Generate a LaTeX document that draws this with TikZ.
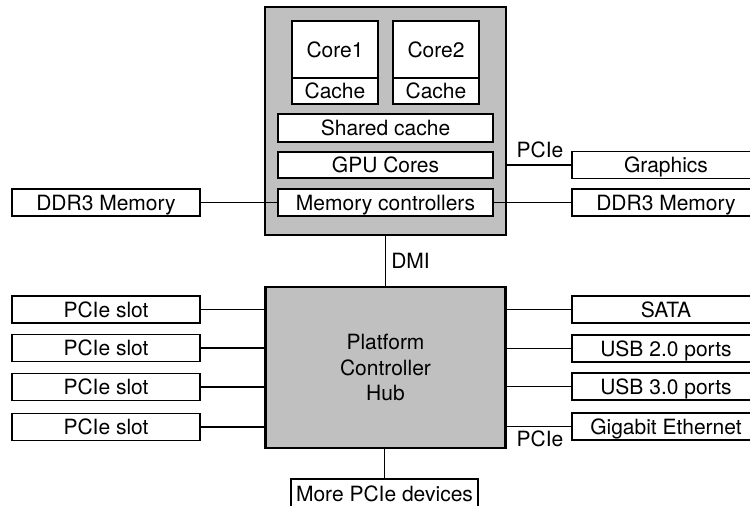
\documentclass[tikz,border=0pt]{standalone}
\usepackage{fontspec}
\setmainfont{TeX Gyre Heros}
\definecolor{chipgray}{RGB}{192,192,192}
\tikzset{
  box/.style={draw=black, line width=1.8pt, fill=white, inner sep=0pt,
    minimum width=#1, minimum height=27pt, text height=15pt, text depth=0pt,
    font=\fontsize{21}{25}\selectfont},
  box/.default=188pt,
  chip/.style={draw=black, line width=2.4pt, fill=chipgray, inner sep=0pt},
  wire/.style={line width=1.5pt},
  lbl/.style={inner sep=0pt, text height=15pt, text depth=0pt, font=\fontsize{21}{25}\selectfont},
}
\begin{document}
\begin{tikzpicture}[x=1pt, y=-1pt]
\useasboundingbox (0,0) rectangle (750,506);
% CPU
\node[chip, minimum width=241pt, minimum height=228pt] (cpu) at (385.5,121) {};
\node[box=86pt, minimum height=57pt] (core1) at (335,49.5) {Core1};
\node[box=86pt, minimum height=26pt] (cache1) at (335,91) {Cache};
\node[box=86pt, minimum height=57pt] (core2) at (436,49.5) {Core2};
\node[box=86pt, minimum height=26pt] (cache2) at (436,91) {Cache};
\node[box=215pt, minimum height=28pt] (shared) at (385.5,128) {Shared cache};
\node[box=215pt, minimum height=26pt] (gpu) at (385.5,165) {GPU Cores};
\node[box=215pt] (mc) at (385.5,202.5) {Memory controllers};
% PCH
\node[chip, minimum width=240pt, minimum height=161pt, align=center,
      font=\fontsize{21}{25.5}\selectfont] (pch) at (385.5,367.5) {Platform\\Controller\\Hub};
% left side
\node[box] (ddrL) at (106,202.5) {DDR3 Memory};
\node[box] (s1) at (106,309.5) {PCIe slot};
\node[box] (s2) at (106,348) {PCIe slot};
\node[box] (s3) at (106,387) {PCIe slot};
\node[box] (s4) at (106,427) {PCIe slot};
% right side
\node[box] (gfx) at (666,165) {Graphics};
\node[box] (ddrR) at (666,202.5) {DDR3 Memory};
\node[box] (sata) at (666,309.5) {SATA};
\node[box] (usb2) at (666,348.5) {USB 2.0 ports};
\node[box] (usb3) at (666,386.5) {USB 3.0 ports};
\node[box] (gbe) at (666,426.5) {Gigabit Ethernet};
% bottom
\node[box=187pt, minimum height=29pt] (more) at (384.5,493.5) {More PCIe devices};
% connectors
\draw[wire] (ddrL.east) -- (mc.west);
\draw[wire] (mc.east) -- (ddrR.west);
\draw[wire] (gfx.west) -- (gfx.west -| cpu.east);
\draw[wire] (cpu.south) -- (pch.north);
\draw[wire] (s1.east) -- (s1.east -| pch.west);
\draw[wire] (s2.east) -- (s2.east -| pch.west);
\draw[wire] (s3.east) -- (s3.east -| pch.west);
\draw[wire] (s4.east) -- (s4.east -| pch.west);
\draw[wire] (sata.west) -- (sata.west -| pch.east);
\draw[wire] (usb2.west) -- (usb2.west -| pch.east);
\draw[wire] (usb3.west) -- (usb3.west -| pch.east);
\draw[wire] (gbe.west) -- (gbe.west -| pch.east);
\draw[wire] (pch.south -| more.north) -- (more.north);
% labels
\node[lbl] (pcieTop) at (540,150) {PCIe};
\node[lbl] (dmi) at (410.5,260.5) {DMI};
\node[lbl] (pcieBot) at (540,439) {PCIe};
\end{tikzpicture}
\end{document}
